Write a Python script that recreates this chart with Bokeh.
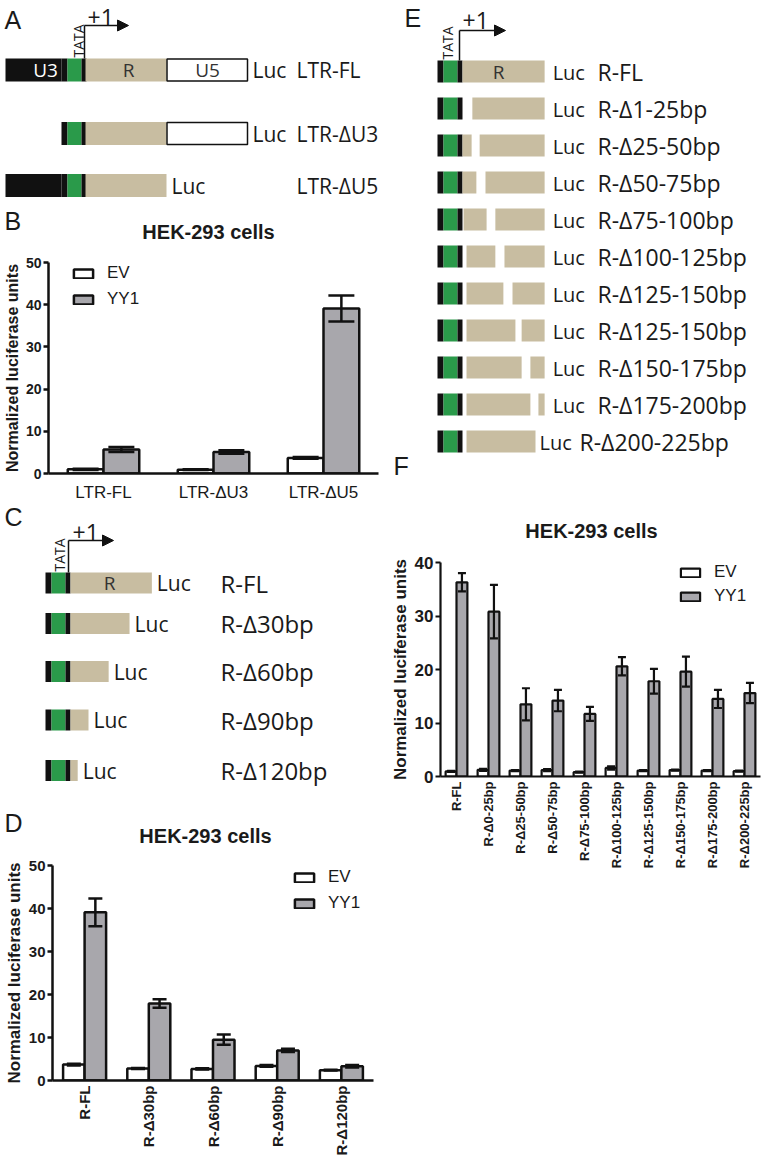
import math
from bokeh.plotting import figure
from bokeh.models import (Range1d, FactorRange, ColumnDataSource, Whisker, FixedTicker,
                          Arrow, NormalHead, Legend, LegendItem)
from bokeh.transform import dodge
from bokeh.layouts import row, column
from bokeh.core.properties import value
from bokeh.embed import file_html
from bokeh.resources import INLINE

# ---------------- data ----------------
# Panel B
b_cats = ["LTR-FL", "LTR-ΔU3", "LTR-ΔU5"]
b_ev = [1.0, 0.9, 3.7]
b_ev_err = [0.15, 0.1, 0.2]
b_yy1 = [5.7, 5.1, 39.1]
b_yy1_err = [0.6, 0.4, 3.1]

# Panel D
d_cats = ["R-FL", "R-Δ30bp", "R-Δ60bp", "R-Δ90bp", "R-Δ120bp"]
d_ev = [3.7, 2.8, 2.7, 3.4, 2.4]
d_ev_err = [0.2, 0.1, 0.15, 0.2, 0.1]
d_yy1 = [39.1, 17.9, 9.5, 7.0, 3.3]
d_yy1_err = [3.2, 1.0, 1.2, 0.4, 0.3]

# Panel F
f_cats = ["R-FL", "R-Δ0-25bp", "R-Δ25-50bp", "R-Δ50-75bp", "R-Δ75-100bp",
          "R-Δ100-125bp", "R-Δ125-150bp", "R-Δ150-175bp", "R-Δ175-200bp", "R-Δ200-225bp"]
f_ev = [0.95, 1.25, 1.1, 1.2, 0.8, 1.6, 1.1, 1.2, 1.1, 1.0]
f_ev_err = [0.1, 0.2, 0.1, 0.2, 0.1, 0.3, 0.1, 0.1, 0.1, 0.1]
f_yy1 = [36.3, 30.8, 13.5, 14.2, 11.7, 20.6, 17.8, 19.6, 14.5, 15.6]
f_yy1_err = [1.7, 5.0, 3.0, 2.0, 1.3, 1.7, 2.3, 2.8, 1.7, 1.9]

# Panel A constructs
a_labels = ["LTR-FL", "LTR-ΔU3", "LTR-ΔU5"]
a_has_u3 = [True, False, True]
a_has_u5 = [True, True, False]

# Panel C constructs (remaining R, schematic units)
c_labels = ["R-FL", "R-Δ30bp", "R-Δ60bp", "R-Δ90bp", "R-Δ120bp"]
c_r_remaining = [113, 82, 53, 25, 10]

# Panel E constructs (R region in bp, deleted stretch)
e_labels = ["R-FL", "R-Δ1-25bp", "R-Δ25-50bp", "R-Δ50-75bp", "R-Δ75-100bp",
            "R-Δ100-125bp", "R-Δ125-150bp", "R-Δ125-150bp", "R-Δ150-175bp",
            "R-Δ175-200bp", "R-Δ200-225bp"]
e_del_start = [None, 0, 25, 38, 66, 90, 112, 145, 162, 186, 200]
e_del_end = [None, 27, 47, 63, 90, 115, 137, 162, 186, 208, 225]
e_r_first = [0, 0, 0, 0, 3, 11, 11, 11, 11, 11, 11]
R_LEN_BP = 225

# ---------------- styles ----------------
BLACK = "#111111"
GREEN = "#2a9a4a"
TAN = "#c8bda1"
GRAY = "#a8a7ac"
TXT = "#1a1a1a"
DFONT = value("Open Sans")
CFONT = "Liberation Sans"
LEFT_W = 386
TOTAL_W = 762


def diagram_fig(x0, x1, y0, y1):
    p = figure(width=int(x1 - x0), height=int(y1 - y0),
               x_range=Range1d(x0, x1), y_range=Range1d(y1, y0),
               output_backend="svg", toolbar_location=None, min_border=0,
               x_axis_type=None, y_axis_type=None, frame_align=False)
    p.outline_line_color = None
    p.grid.visible = False
    return p


def rects(p, lefts, rights, yc, h, color, line_color=None, lw=0):
    p.quad(left=lefts, right=rights, top=[yc - h / 2] * len(lefts),
           bottom=[yc + h / 2] * len(lefts), fill_color=color,
           line_color=line_color, line_width=lw)


def tata_block(p, x, yc, h):
    rects(p, [x], [x + 6], yc, h, BLACK)
    rects(p, [x + 6], [x + 20], yc, h, GREEN)
    rects(p, [x + 20], [x + 25], yc, h, BLACK)


def txt(p, x, y, t, size, font=DFONT, align="left", color=TXT, style="normal", angle=0):
    p.text(x=[x], y=[y], text=[t], text_font=font, text_font_size=size,
           text_align=align, text_baseline="middle", text_color=color,
           text_font_style=style, angle=angle)


def tss(p, xv, ybot, ytop, xtip, tata_x, plus_x, plus_y):
    p.segment(x0=[xv], y0=[ybot], x1=[xv], y1=[ytop], line_color=BLACK, line_width=1.5)
    p.add_layout(Arrow(end=NormalHead(size=11, fill_color=BLACK, line_color=BLACK),
                       x_start=xv, y_start=ytop, x_end=xtip, y_end=ytop,
                       line_color=BLACK, line_width=1.5))
    txt(p, tata_x, ybot - 1, "TATA", "14px", angle=math.pi / 2)
    txt(p, plus_x, plus_y, "+1", "23px")


# ---------------- panel A (+ B header) ----------------
pA = diagram_fig(0, LEFT_W, 0, 243)
txt(pA, 4, 19, "A", "25px", font=value(CFONT))
a_rows_y = [69.5, 133, 185]
for i, lab in enumerate(a_labels):
    yc = a_rows_y[i]
    if a_has_u3[i]:
        rects(pA, [5], [61], yc, 23, BLACK)
    tata_block(pA, 61, yc, 23)
    rects(pA, [85], [166], yc, 23, TAN)
    end = 166
    if a_has_u5[i]:
        rects(pA, [166.5], [247], yc, 22, "white", BLACK, 1.5)
        end = 247
    txt(pA, end + 5, yc, "Luc", "21px")
    txt(pA, 296, yc, lab, "21px")
    if i == 0:
        txt(pA, 45, yc, "U3", "19px", align="center", color="white")
        txt(pA, 128, yc, "R", "19px", align="center", color="#333333")
        txt(pA, 207, yc, "U5", "19px", align="center", color="#333333")
tss(pA, 84, 58, 25, 128, 78, 87, 17)
txt(pA, 4, 220, "B", "25px", font=value(CFONT))
txt(pA, 208, 231, "HEK-293 cells", "20px", font=value(CFONT), align="center", style="bold")

# ---------------- panel C (+ D header) ----------------
pC = diagram_fig(0, LEFT_W, 504, 845)
txt(pC, 4, 516, "C", "25px", font=value(CFONT))
c_rows_y = [582.5, 623, 671, 719.5, 770]
for i, lab in enumerate(c_labels):
    yc = c_rows_y[i]
    tata_block(pC, 45, yc, 21)
    end = 70 + c_r_remaining[i] * 0.72
    rects(pC, [70], [end], yc, 21, TAN)
    txt(pC, end + 5, yc, "Luc", "21px")
    txt(pC, 220, yc, lab, "24px")
    if i == 0:
        txt(pC, 109, yc, "R", "19px", align="center", color="#333333")
tss(pC, 68, 572, 540, 113, 59, 72, 532)
txt(pC, 4, 822, "D", "25px", font=value(CFONT))
txt(pC, 205, 835, "HEK-293 cells", "20px", font=value(CFONT), align="center", style="bold")

# ---------------- panel E (+ F header) ----------------
pE = diagram_fig(LEFT_W, TOTAL_W, 0, 545)
txt(pE, 404, 17, "E", "25px", font=value(CFONT))
E_X0, E_SCALE = 462, 0.365
for i, lab in enumerate(e_labels):
    yc = 71 + 37 * i
    tata_block(pE, 437, yc, 22)
    pieces = []
    if e_del_start[i] is None:
        pieces.append((e_r_first[i], R_LEN_BP))
    else:
        if e_del_start[i] > e_r_first[i]:
            pieces.append((e_r_first[i], e_del_start[i]))
        if e_del_end[i] < R_LEN_BP:
            pieces.append((e_del_end[i], R_LEN_BP))
    rects(pE, [E_X0 + a * E_SCALE for a, b in pieces],
          [E_X0 + b * E_SCALE for a, b in pieces], yc, 22, TAN)
    end_bp = max(b for a, b in pieces)
    end_px = E_X0 + end_bp * E_SCALE
    full = end_bp >= R_LEN_BP
    luc_x = end_px + (8 if full else 4)
    txt(pE, luc_x, yc + 1, "Luc", "20px")
    txt(pE, 597 if full else luc_x + 40, yc, lab, "23px")
    if i == 0:
        txt(pE, 498, yc, "R", "19px", align="center", color="#333333")
tss(pE, 459, 60, 30, 505, 447, 462, 20)
txt(pE, 393, 465, "F", "25px", font=value(CFONT))
txt(pE, 591, 530, "HEK-293 cells", "20px", font=value(CFONT), align="center", style="bold")


# ---------------- bar charts ----------------
def bar_chart(cats, ev, ev_err, yy1, yy1_err, *, width, height, mb, ymax, tick_fs,
              ylab_fs, xlab_fs, xlab_style, vertical, xstand, leg_fs, leg_loc,
              leg_spacing, bar_w, cap, lw):
    src = ColumnDataSource(dict(
        cat=cats, ev=ev, yy1=yy1,
        ev_lo=[v - e for v, e in zip(ev, ev_err)], ev_hi=[v + e for v, e in zip(ev, ev_err)],
        yy1_lo=[v - e for v, e in zip(yy1, yy1_err)], yy1_hi=[v + e for v, e in zip(yy1, yy1_err)],
    ))
    p = figure(width=width, height=height, x_range=FactorRange(*cats),
               y_range=Range1d(0, ymax), output_backend="svg", toolbar_location=None,
               min_border_left=mb[0], min_border_right=mb[1], min_border_top=mb[2],
               min_border_bottom=mb[3], frame_align=False)
    p.outline_line_color = None
    p.grid.visible = False
    off = bar_w / 2
    r1 = p.vbar(x=dodge("cat", -off, range=p.x_range), top="ev", width=bar_w, source=src,
                fill_color="white", line_color=BLACK, line_width=lw)
    r2 = p.vbar(x=dodge("cat", off, range=p.x_range), top="yy1", width=bar_w, source=src,
                fill_color=GRAY, line_color=BLACK, line_width=lw)
    for name, d in (("ev", -off), ("yy1", off)):
        w = Whisker(base=dodge("cat", d, range=p.x_range), lower=name + "_lo",
                    upper=name + "_hi", source=src, line_color=BLACK, line_width=lw,
                    level="overlay")
        w.upper_head.size = cap
        w.lower_head.size = cap
        w.upper_head.line_width = lw
        w.lower_head.line_width = lw
        w.upper_head.line_color = BLACK
        w.lower_head.line_color = BLACK
        p.add_layout(w)

    leg = Legend(items=[LegendItem(label="EV", renderers=[r1]),
                        LegendItem(label="YY1", renderers=[r2])],
                 location=leg_loc, padding=0, margin=0, spacing=leg_spacing,
                 glyph_width=24, glyph_height=11, label_height=20, label_standoff=12,
                 label_text_font=CFONT, label_text_font_size=leg_fs,
                 label_text_color=TXT, border_line_color=None, background_fill_alpha=0)
    p.add_layout(leg)

    ya = p.yaxis[0]
    ya.ticker = FixedTicker(ticks=list(range(0, ymax + 1, 10)))
    ya.axis_line_width = lw
    ya.axis_line_color = BLACK
    ya.major_tick_line_width = lw
    ya.major_tick_line_color = BLACK
    ya.major_tick_out = 5
    ya.major_tick_in = 0
    ya.minor_tick_line_color = None
    ya.minor_tick_out = 0
    ya.major_label_text_font = CFONT
    ya.major_label_text_font_style = "bold"
    ya.major_label_text_font_size = tick_fs
    ya.major_label_text_color = TXT
    ya.major_label_standoff = 2
    ya.axis_label = "Normalized luciferase units"
    ya.axis_label_text_font = CFONT
    ya.axis_label_text_font_style = "bold"
    ya.axis_label_text_font_size = ylab_fs
    ya.axis_label_text_color = TXT
    ya.axis_label_standoff = 2

    xa = p.xaxis[0]
    xa.axis_line_width = lw
    xa.axis_line_color = BLACK
    xa.major_tick_line_color = None
    xa.major_tick_out = 0
    xa.major_tick_in = 0
    xa.minor_tick_line_color = None
    xa.minor_tick_out = 0
    xa.major_label_text_font = CFONT
    xa.major_label_text_font_style = xlab_style
    xa.major_label_text_font_size = xlab_fs
    xa.major_label_text_color = TXT
    xa.major_label_standoff = xstand
    if vertical:
        xa.major_label_orientation = math.pi / 2
    return p


# pB: page y 243..504, frame 262..474
pB = bar_chart(b_cats, b_ev, b_ev_err, b_yy1, b_yy1_err, width=LEFT_W, height=261,
               mb=(48, 8, 19, 30), ymax=50, tick_fs="14px", ylab_fs="16px",
               xlab_fs="17px", xlab_style="normal", vertical=False, xstand=9,
               leg_fs="17px", leg_loc=(23, 164), leg_spacing=6, bar_w=0.325, cap=26, lw=2.5)

# pD: page y 845..1160, frame 865..1080
pD = bar_chart(d_cats, d_ev, d_ev_err, d_yy1, d_yy1_err, width=LEFT_W, height=315,
               mb=(52, 13, 20, 80), ymax=50, tick_fs="15px", ylab_fs="17px",
               xlab_fs="15px", xlab_style="bold", vertical=True, xstand=5,
               leg_fs="17px", leg_loc=(240, 167), leg_spacing=6, bar_w=0.335, cap=14, lw=2.5)

# pF: page y 545..905, frame 562..776
pF = bar_chart(f_cats, f_ev, f_ev_err, f_yy1, f_yy1_err, width=TOTAL_W - LEFT_W, height=360,
               mb=(54, 2, 17, 129), ymax=40, tick_fs="17px", ylab_fs="17px",
               xlab_fs="13px", xlab_style="bold", vertical=True, xstand=5,
               leg_fs="17px", leg_loc=(238, 170), leg_spacing=4, bar_w=0.34, cap=8, lw=2.2)

layout = row(column(pA, pB, pC, pD), column(pE, pF))
open("out.html", "w").write(file_html(layout, INLINE))
